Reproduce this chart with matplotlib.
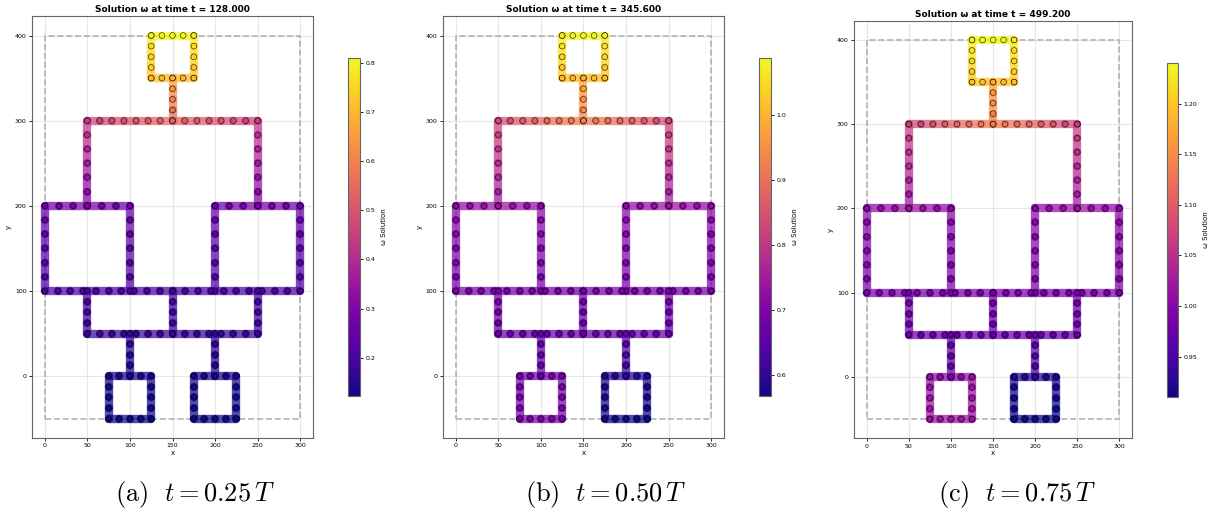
import numpy as np
import matplotlib
matplotlib.use("Agg")
import matplotlib.pyplot as plt
from matplotlib.colors import Normalize
from matplotlib.patches import Rectangle

plt.rcParams['mathtext.fontset'] = 'cm'

# network edges: name, start, end, number of segments along the edge
edges = [
    ("top_top", (125, 400), (175, 400), 4),
    ("top_right", (175, 400), (175, 350), 4),
    ("top_bottom", (175, 350), (125, 350), 4),
    ("top_left", (125, 350), (125, 400), 4),
    ("stem", (150, 350), (150, 300), 4),
    ("bar300_l", (150, 300), (50, 300), 7),
    ("bar300_r", (150, 300), (250, 300), 7),
    ("drop_l", (50, 300), (50, 200), 6),
    ("drop_r", (250, 300), (250, 200), 6),
    ("lsq_top_l", (50, 200), (0, 200), 3),
    ("lsq_top_r", (50, 200), (100, 200), 3),
    ("rsq_top_l", (250, 200), (200, 200), 3),
    ("rsq_top_r", (250, 200), (300, 200), 3),
    ("lsq_left", (0, 200), (0, 100), 6),
    ("lsq_right", (100, 200), (100, 100), 6),
    ("rsq_left", (200, 200), (200, 100), 6),
    ("rsq_right", (300, 200), (300, 100), 6),
    ("bar100", (0, 100), (300, 100), 20),
    ("link_a", (50, 100), (50, 50), 4),
    ("link_b", (150, 100), (150, 50), 4),
    ("link_c", (250, 100), (250, 50), 4),
    ("bar50", (50, 50), (250, 50), 14),
    ("feed_l", (100, 50), (100, 0), 4),
    ("feed_r", (200, 50), (200, 0), 4),
    ("low_l_top", (75, 0), (125, 0), 4),
    ("low_l_right", (125, 0), (125, -50), 4),
    ("low_l_bottom", (125, -50), (75, -50), 4),
    ("low_l_left", (75, -50), (75, 0), 4),
    ("low_r_top", (175, 0), (225, 0), 4),
    ("low_r_right", (225, 0), (225, -50), 4),
    ("low_r_bottom", (225, -50), (175, -50), 4),
    ("low_r_left", (175, -50), (175, 0), 4),
]

domain = (0, 300, -50, 400)

times = [128.0, 345.6, 499.2]
captions = ["(a)", "(b)", "(c)"]
fractions = ["0.25", "0.50", "0.75"]

# node values of omega along each edge, t = 128.000
w_a = {
    "top_top": [0.795, 0.803, 0.810, 0.803, 0.795],
    "top_right": [0.795, 0.772, 0.752, 0.735, 0.712],
    "top_bottom": [0.712, 0.700, 0.693, 0.700, 0.712],
    "top_left": [0.712, 0.735, 0.752, 0.772, 0.795],
    "stem": [0.690, 0.640, 0.603, 0.572, 0.540],
    "bar300_l": [0.540, 0.528, 0.516, 0.505, 0.492, 0.478, 0.462, 0.445],
    "bar300_r": [0.540, 0.528, 0.516, 0.505, 0.492, 0.478, 0.462, 0.445],
    "drop_l": [0.445, 0.415, 0.390, 0.365, 0.340, 0.318, 0.295],
    "drop_r": [0.445, 0.415, 0.390, 0.365, 0.340, 0.318, 0.295],
    "lsq_top_l": [0.295, 0.280, 0.268, 0.258],
    "lsq_top_r": [0.295, 0.280, 0.268, 0.258],
    "rsq_top_l": [0.295, 0.280, 0.268, 0.258],
    "rsq_top_r": [0.295, 0.280, 0.268, 0.258],
    "lsq_left": [0.258, 0.248, 0.238, 0.230, 0.222, 0.215, 0.208],
    "lsq_right": [0.258, 0.248, 0.238, 0.230, 0.222, 0.215, 0.208],
    "rsq_left": [0.258, 0.248, 0.238, 0.230, 0.222, 0.215, 0.208],
    "rsq_right": [0.258, 0.248, 0.238, 0.230, 0.222, 0.215, 0.208],
    "bar100": [0.208, 0.206, 0.204, 0.203, 0.202, 0.202, 0.203, 0.204, 0.203, 0.202, 0.201,
               0.202, 0.203, 0.204, 0.203, 0.202, 0.202, 0.203, 0.204, 0.206, 0.208],
    "link_a": [0.202, 0.194, 0.187, 0.181, 0.176],
    "link_b": [0.201, 0.193, 0.186, 0.180, 0.175],
    "link_c": [0.202, 0.194, 0.187, 0.181, 0.176],
    "bar50": [0.176, 0.174, 0.173, 0.171, 0.171, 0.173, 0.174, 0.175,
              0.174, 0.173, 0.171, 0.171, 0.173, 0.174, 0.176],
    "feed_l": [0.170, 0.160, 0.151, 0.143, 0.137],
    "feed_r": [0.170, 0.160, 0.151, 0.143, 0.137],
    "low_l_top": [0.133, 0.135, 0.137, 0.135, 0.133],
    "low_l_right": [0.133, 0.130, 0.128, 0.126, 0.124],
    "low_l_bottom": [0.124, 0.123, 0.122, 0.123, 0.124],
    "low_l_left": [0.124, 0.126, 0.128, 0.130, 0.133],
    "low_r_top": [0.133, 0.135, 0.137, 0.135, 0.133],
    "low_r_right": [0.133, 0.130, 0.128, 0.126, 0.124],
    "low_r_bottom": [0.124, 0.123, 0.122, 0.123, 0.124],
    "low_r_left": [0.124, 0.126, 0.128, 0.130, 0.133],
}

# t = 345.600
w_b = {
    "top_top": [1.075, 1.081, 1.087, 1.081, 1.075],
    "top_right": [1.075, 1.058, 1.045, 1.032, 1.015],
    "top_bottom": [1.015, 1.008, 1.003, 1.008, 1.015],
    "top_left": [1.015, 1.032, 1.045, 1.058, 1.075],
    "stem": [0.995, 0.972, 0.955, 0.940, 0.928],
    "bar300_l": [0.928, 0.915, 0.903, 0.891, 0.878, 0.864, 0.849, 0.832],
    "bar300_r": [0.928, 0.915, 0.903, 0.891, 0.878, 0.864, 0.849, 0.832],
    "drop_l": [0.832, 0.815, 0.799, 0.784, 0.769, 0.754, 0.740],
    "drop_r": [0.832, 0.815, 0.799, 0.784, 0.769, 0.754, 0.740],
    "lsq_top_l": [0.740, 0.731, 0.724, 0.718],
    "lsq_top_r": [0.740, 0.731, 0.724, 0.718],
    "rsq_top_l": [0.740, 0.731, 0.724, 0.718],
    "rsq_top_r": [0.740, 0.731, 0.724, 0.718],
    "lsq_left": [0.718, 0.712, 0.706, 0.701, 0.697, 0.693, 0.690],
    "lsq_right": [0.718, 0.712, 0.706, 0.701, 0.697, 0.693, 0.690],
    "rsq_left": [0.718, 0.712, 0.706, 0.701, 0.697, 0.693, 0.690],
    "rsq_right": [0.718, 0.712, 0.706, 0.701, 0.697, 0.693, 0.690],
    "bar100": [0.690, 0.689, 0.688, 0.687, 0.686, 0.686, 0.686, 0.687, 0.686, 0.685, 0.685,
               0.685, 0.685, 0.684, 0.684, 0.684, 0.684, 0.685, 0.686, 0.688, 0.690],
    "link_a": [0.686, 0.680, 0.675, 0.671, 0.667],
    "link_b": [0.685, 0.679, 0.674, 0.670, 0.666],
    "link_c": [0.684, 0.678, 0.673, 0.669, 0.665],
    "bar50": [0.667, 0.666, 0.665, 0.664, 0.664, 0.665, 0.666, 0.666,
              0.665, 0.664, 0.663, 0.662, 0.663, 0.664, 0.665],
    "feed_l": [0.664, 0.662, 0.662, 0.664, 0.668],
    "feed_r": [0.662, 0.650, 0.636, 0.620, 0.604],
    "low_l_top": [0.684, 0.680, 0.670, 0.680, 0.684],
    "low_l_right": [0.684, 0.686, 0.688, 0.689, 0.690],
    "low_l_bottom": [0.690, 0.691, 0.692, 0.691, 0.690],
    "low_l_left": [0.690, 0.689, 0.688, 0.686, 0.684],
    "low_r_top": [0.584, 0.590, 0.600, 0.590, 0.584],
    "low_r_right": [0.584, 0.580, 0.576, 0.573, 0.570],
    "low_r_bottom": [0.570, 0.569, 0.568, 0.569, 0.570],
    "low_r_left": [0.570, 0.573, 0.576, 0.580, 0.584],
}

# t = 499.200
w_c = {
    "top_top": [1.232, 1.236, 1.240, 1.236, 1.232],
    "top_right": [1.232, 1.222, 1.214, 1.206, 1.197],
    "top_bottom": [1.197, 1.193, 1.190, 1.193, 1.197],
    "top_left": [1.197, 1.206, 1.214, 1.222, 1.232],
    "stem": [1.178, 1.165, 1.152, 1.142, 1.134],
    "bar300_l": [1.134, 1.126, 1.118, 1.110, 1.101, 1.091, 1.080, 1.068],
    "bar300_r": [1.134, 1.126, 1.118, 1.110, 1.101, 1.091, 1.080, 1.068],
    "drop_l": [1.068, 1.059, 1.050, 1.042, 1.034, 1.026, 1.019],
    "drop_r": [1.068, 1.059, 1.050, 1.042, 1.034, 1.026, 1.019],
    "lsq_top_l": [1.019, 1.013, 1.008, 1.004],
    "lsq_top_r": [1.019, 1.013, 1.008, 1.004],
    "rsq_top_l": [1.019, 1.013, 1.008, 1.004],
    "rsq_top_r": [1.019, 1.013, 1.008, 1.004],
    "lsq_left": [1.004, 1.001, 0.998, 0.996, 0.994, 0.992, 0.990],
    "lsq_right": [1.004, 1.001, 0.998, 0.996, 0.994, 0.992, 0.990],
    "rsq_left": [1.004, 1.001, 0.998, 0.996, 0.994, 0.992, 0.990],
    "rsq_right": [1.004, 1.001, 0.998, 0.996, 0.994, 0.992, 0.990],
    "bar100": [0.990, 0.989, 0.988, 0.988, 0.987, 0.987, 0.987, 0.988, 0.987, 0.986, 0.986,
               0.986, 0.986, 0.985, 0.985, 0.985, 0.985, 0.986, 0.987, 0.988, 0.990],
    "link_a": [0.987, 0.983, 0.980, 0.977, 0.975],
    "link_b": [0.986, 0.982, 0.979, 0.976, 0.974],
    "link_c": [0.985, 0.981, 0.978, 0.975, 0.973],
    "bar50": [0.975, 0.974, 0.974, 0.973, 0.972, 0.974, 0.975, 0.975,
              0.974, 0.973, 0.972, 0.971, 0.972, 0.973, 0.973],
    "feed_l": [0.972, 0.968, 0.966, 0.968, 0.978],
    "feed_r": [0.971, 0.965, 0.958, 0.950, 0.940],
    "low_l_top": [1.012, 1.004, 0.990, 1.004, 1.012],
    "low_l_right": [1.012, 1.015, 1.017, 1.019, 1.020],
    "low_l_bottom": [1.020, 1.021, 1.022, 1.021, 1.020],
    "low_l_left": [1.020, 1.019, 1.017, 1.015, 1.012],
    "low_r_top": [0.916, 0.920, 0.930, 0.920, 0.916],
    "low_r_right": [0.916, 0.914, 0.912, 0.911, 0.910],
    "low_r_bottom": [0.910, 0.910, 0.910, 0.910, 0.910],
    "low_r_left": [0.910, 0.911, 0.912, 0.914, 0.916],
}

panels = [w_a, w_b, w_c]

# axes / colorbar placement (figure fractions)
ax_pos = [[0.0265, 0.1445, 0.2324, 0.824],
          [0.3664, 0.1445, 0.2324, 0.824],
          [0.7064, 0.1445, 0.2300, 0.8145]]
cb_pos = [[0.2878, 0.2266, 0.0099, 0.660],
          [0.6278, 0.2266, 0.0099, 0.660],
          [0.9653, 0.2246, 0.0091, 0.652]]
cap_x = [0.161, 0.501, 0.841]

cmap = plt.get_cmap("plasma")
fig = plt.figure(figsize=(12.09, 5.12), dpi=100)

for k, w in enumerate(panels):
    ax = fig.add_axes(ax_pos[k])
    xs, ys, vals = [], [], []
    for name, p0, p1, n in edges:
        xs.extend(np.linspace(p0[0], p1[0], n + 1))
        ys.extend(np.linspace(p0[1], p1[1], n + 1))
        vals.extend(w[name])
    norm = Normalize(vmin=min(vals), vmax=max(vals))

    rect = Rectangle((domain[0], domain[2]), domain[1] - domain[0], domain[3] - domain[2],
                     fill=False, ls="--", ec="gray", lw=1.2, alpha=0.6, zorder=1)
    ax.add_patch(rect)

    # thick coloured pipes between neighbouring nodes
    pos = 0
    for name, p0, p1, n in edges:
        for i in range(n):
            a, b = pos + i, pos + i + 1
            ax.plot([xs[a], xs[b]], [ys[a], ys[b]], color=cmap(norm((vals[a] + vals[b]) / 2)),
                    lw=6, alpha=0.72, solid_capstyle="round", zorder=2)
        pos += n + 1

    sc = ax.scatter(xs, ys, c=vals, cmap=cmap, norm=norm, s=17,
                    edgecolors="black", linewidths=0.4, alpha=0.9, zorder=3)

    ax.set_aspect("equal")
    ax.set_xticks(np.arange(0, 301, 50))
    ax.set_yticks(np.arange(0, 401, 100))
    ax.tick_params(labelsize=4.5, length=2, width=0.6, pad=2)
    ax.grid(True, alpha=0.3)
    ax.set_xlabel("x", fontsize=5, labelpad=1)
    ax.set_ylabel("y", fontsize=5, labelpad=2)
    ax.set_title("Solution ω at time t = %.3f" % times[k], fontsize=6.5,
                 fontweight="bold", pad=3)
    for sp in ax.spines.values():
        sp.set_color("#666666")

    cax = fig.add_axes(cb_pos[k])
    cb = fig.colorbar(sc, cax=cax)
    cb.solids.set_alpha(1)
    cb.set_label("ω Solution", fontsize=5)
    cb.ax.tick_params(labelsize=4.5, length=2, width=0.6, pad=2)
    cb.outline.set_edgecolor("#666666")

    fig.text(cap_x[k], 0.035,
             r"$\mathrm{%s}\ \ t = %s\,T$" % (captions[k], fractions[k]),
             fontsize=19, ha="center", va="center")

fig.savefig("out.png", dpi=100)
